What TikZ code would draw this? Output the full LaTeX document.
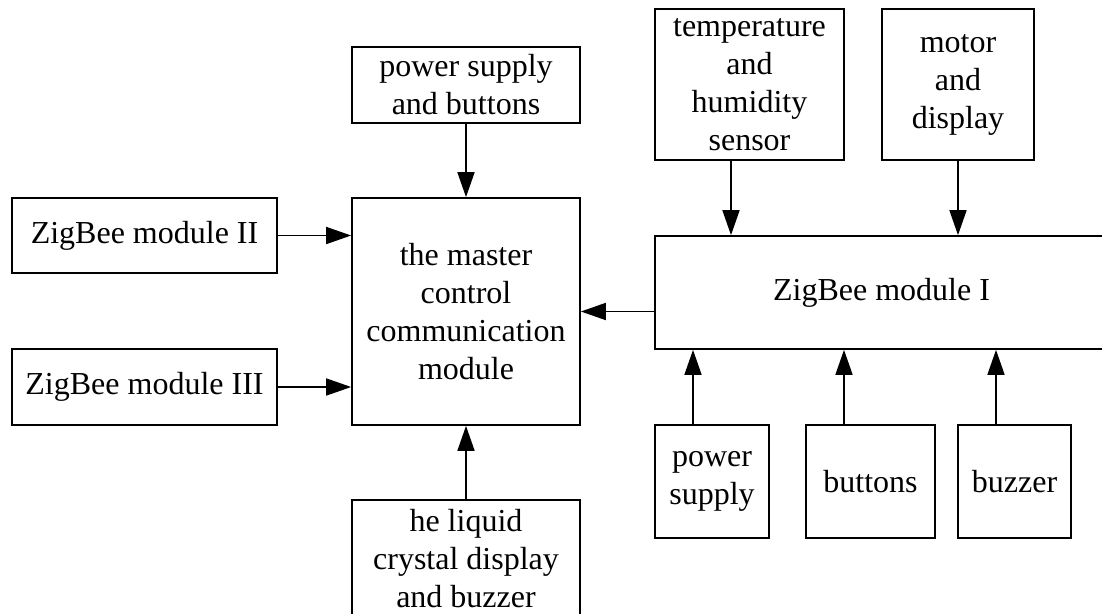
\documentclass[tikz,border=0pt]{standalone}
\usepackage{fontspec}
\setmainfont{Liberation Serif}
\usetikzlibrary{arrows.meta, positioning}

\begin{document}
\begin{tikzpicture}[
  x=1pt, y=-1pt,
  font=\fontsize{32}{38}\selectfont,
  >={Triangle[length=25pt, width=17pt]},
  blk/.style={draw, line width=1.7pt, align=center, inner sep=0pt},
  link/.style={->, line width=1.7pt},
]
\useasboundingbox (0,0) rectangle (1102,613);
% left side: master module and its inputs
\node[blk, minimum width=228pt, minimum height=76pt]  (psb)    at (466,85)    {power supply\\and buttons};
\node[blk, minimum width=228pt, minimum height=227pt] (master) at (466,311.5) {the master\\control\\communication\\module};
\node[blk, minimum width=265pt, minimum height=75pt]  (zb2)    at (144.5,235.5) {ZigBee module II};
\node[blk, minimum width=265pt, minimum height=76pt]  (zb3)    at (144.5,387) {ZigBee module III};
\node[blk, minimum width=228pt, minimum height=118pt] (lcd)    at (466,559)   {he liquid\\crystal display\\and buzzer};
% right side: ZigBee module I and its peripherals
\node[blk, minimum width=453pt, minimum height=113pt] (zb1)    at (881.5,292.5) {ZigBee module I};
\node[blk, minimum width=189pt, minimum height=151pt] (temp)   at (749.5,84.5) {temperature\\and\\humidity\\sensor};
\node[blk, minimum width=152pt, minimum height=151pt] (motor)  at (958,84.5)   {motor\\and\\display};
\node[blk, minimum width=114pt, minimum height=113pt] (ps)     at (712,481.5)  {power\\supply};
\node[blk, minimum width=129pt, minimum height=113pt] (btn)    at (870.5,481.5) {buttons};
\node[blk, minimum width=113pt, minimum height=113pt] (bzr)    at (1014.5,481.5) {buzzer};
% arrow columns
\coordinate (tx) at (731,0);
\coordinate (px) at (693,0);
\coordinate (bx) at (844,0);
\coordinate (zx) at (996,0);
% arrows into the master module
\draw[link] (psb) -- (master);
\draw[link] (lcd) -- (master);
\draw[link] (zb2.east) -- (zb2.east -| master.west);
\draw[link] (zb3.east) -- (zb3.east -| master.west);
\draw[link] (zb1.west |- master.east) -- (master.east);
% arrows into ZigBee module I
\draw[link] (temp.south -| tx) -- (zb1.north -| tx);
\draw[link] (motor) -- (motor |- zb1.north);
\draw[link] (ps.north -| px) -- (zb1.south -| px);
\draw[link] (btn.north -| bx) -- (zb1.south -| bx);
\draw[link] (bzr.north -| zx) -- (zb1.south -| zx);
\end{tikzpicture}
\end{document}
